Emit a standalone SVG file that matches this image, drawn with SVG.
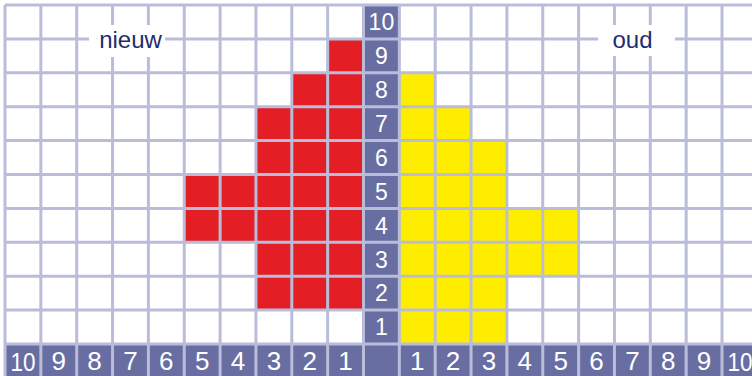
<svg xmlns="http://www.w3.org/2000/svg" width="752" height="376" viewBox="0 0 752 376">
  <style>
    .red { fill: #e31e24; }
    .yel { fill: #ffed00; }
    .dark { fill: #696ea2; }
    .grid { stroke: #b9bdd9; stroke-width: 3; fill: none; }
    .num { font-family: "Liberation Sans", Arial, sans-serif; fill: #ffffff; text-anchor: middle; }
    .c { font-size: 23px; }
    .b { font-size: 26px; }
    .lbl { font-family: "Liberation Sans", Arial, sans-serif; font-size: 24px; fill: #1f2d6d; text-anchor: middle; }
  </style>
  <rect x="0" y="0" width="752" height="376" fill="#ffffff"/>

  <g id="new-bars">
    <rect class="red" x="327.65" y="38.9" width="35.85" height="33.9"/>
    <rect class="red" x="291.8" y="72.8" width="71.7" height="33.9"/>
    <rect class="red" x="255.95" y="106.7" width="107.55" height="67.8"/>
    <rect class="red" x="184.25" y="174.5" width="179.25" height="67.8"/>
    <rect class="red" x="255.95" y="242.3" width="107.55" height="67.8"/>
  </g>
  <g id="old-bars">
    <rect class="yel" x="399.35" y="72.8" width="35.85" height="33.9"/>
    <rect class="yel" x="399.35" y="106.7" width="71.7" height="33.9"/>
    <rect class="yel" x="399.35" y="140.6" width="107.55" height="67.8"/>
    <rect class="yel" x="399.35" y="208.4" width="179.25" height="67.8"/>
    <rect class="yel" x="399.35" y="276.2" width="107.55" height="67.8"/>
  </g>
  <g id="axes-bg">
    <rect class="dark" x="363.5" y="5" width="35.85" height="371"/>
    <rect class="dark" x="5" y="344" width="747" height="32"/>
  </g>

  <g id="grid" class="grid">
    <path d="M5 5V376M40.85 5V376M76.7 5V376M112.55 5V376M148.4 5V376M184.25 5V376M220.1 5V376M255.95 5V376M291.8 5V376M327.65 5V376M363.5 5V376M399.35 5V376M435.2 5V376M471.05 5V376M506.9 5V376M542.75 5V376M578.6 5V376M614.45 5V376M650.3 5V376M686.15 5V376M722 5V376"/>
    <path d="M5 5H752M5 38.9H752M5 72.8H752M5 106.7H752M5 140.6H752M5 174.5H752M5 208.4H752M5 242.3H752M5 276.2H752M5 310.1H752M5 344H752"/>
  </g>

  <g id="vertical-axis" class="num c">
    <text x="381.4" y="30.2">10</text>
    <text x="381.4" y="64.1">9</text>
    <text x="381.4" y="98">8</text>
    <text x="381.4" y="131.9">7</text>
    <text x="381.4" y="165.8">6</text>
    <text x="381.4" y="199.7">5</text>
    <text x="381.4" y="233.6">4</text>
    <text x="381.4" y="267.5">3</text>
    <text x="381.4" y="301.4">2</text>
    <text x="381.4" y="335.3">1</text>
  </g>

  <g id="horizontal-axis" class="num b">
    <text x="22.9" y="371" textLength="25" lengthAdjust="spacingAndGlyphs">10</text>
    <text x="58.8" y="370">9</text>
    <text x="94.6" y="370">8</text>
    <text x="130.5" y="370">7</text>
    <text x="166.3" y="370">6</text>
    <text x="202.2" y="370">5</text>
    <text x="238" y="370">4</text>
    <text x="273.9" y="370">3</text>
    <text x="309.7" y="370">2</text>
    <text x="345.6" y="370">1</text>
    <text x="417.3" y="370">1</text>
    <text x="453.1" y="370">2</text>
    <text x="489" y="370">3</text>
    <text x="524.8" y="370">4</text>
    <text x="560.7" y="370">5</text>
    <text x="596.5" y="370">6</text>
    <text x="632.4" y="370">7</text>
    <text x="668.2" y="370">8</text>
    <text x="704.1" y="370">9</text>
    <text x="739.9" y="371" textLength="25" lengthAdjust="spacingAndGlyphs">10</text>
  </g>

  <g id="label-nieuw">
    <rect x="89" y="25" width="76" height="32" fill="#ffffff"/>
    <text class="lbl" x="130.5" y="47.5">nieuw</text>
  </g>
  <g id="label-oud">
    <rect x="598" y="25" width="77" height="31" fill="#ffffff"/>
    <text class="lbl" x="632.5" y="47.5">oud</text>
  </g>
</svg>
